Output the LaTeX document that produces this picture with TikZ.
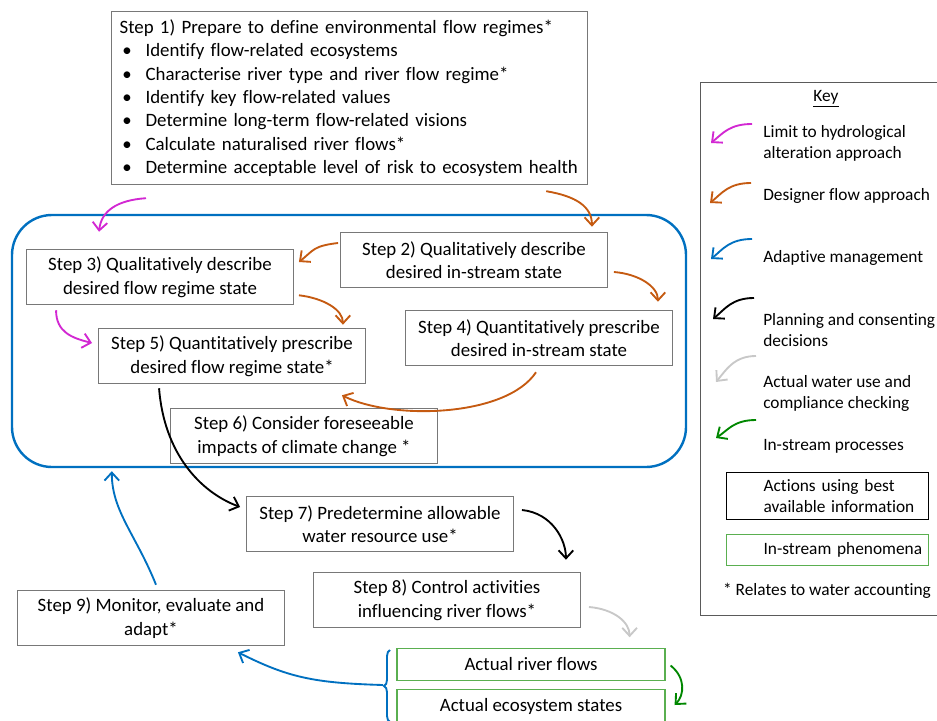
\documentclass[tikz,border=0pt]{standalone}
\usepackage{fontspec}
\setmainfont{Carlito}[Ligatures=NoCommon]
\usetikzlibrary{arrows.meta,calc,decorations.pathreplacing}
\definecolor{mag}{RGB}{210,40,210}
\definecolor{aorange}{RGB}{197,90,17}
\definecolor{ablue}{RGB}{0,112,192}
\definecolor{agray}{RGB}{200,200,200}
\definecolor{agreen}{RGB}{0,135,0}
\definecolor{boxgray}{RGB}{120,120,120}
\definecolor{keygray}{RGB}{90,90,90}
\definecolor{lgreen}{RGB}{90,175,80}
\newcommand{\bigsz}{\fontsize{14.15pt}{17.6pt}\selectfont}
\newcommand{\keysz}{\fontsize{13pt}{15.8pt}\selectfont}
\newcommand{\bul}{\hspace*{2pt}\makebox[17.5pt][l]{\textbullet}}
\begin{document}
\begin{tikzpicture}[x=0.75pt,y=-0.75pt,
  stepbox/.style={draw=boxgray,line width=0.9pt,minimum width=200pt,minimum height=41.5pt,inner sep=0pt,align=center,font=\bigsz},
  greenbox/.style={draw=lgreen,line width=0.9pt,minimum width=201pt,minimum height=23.5pt,inner sep=0pt,align=center,font=\bigsz},
  keytext/.style={anchor=west,align=left,font=\keysz,inner sep=0pt},
  arr/.style={line width=1.4pt,-{Straight Barb[length=6pt,width=11pt]}}]
\useasboundingbox (0,0) rectangle (937,720);

% adaptive zone
\node[draw=ablue,line width=1.8pt,rounded corners=30pt,minimum width=505.5pt,minimum height=189pt,inner sep=0pt] (zone) at (349,341) {};

% step 1
\node[draw=boxgray,line width=0.9pt,anchor=north west,minimum height=129.75pt,inner xsep=6pt,inner ysep=0pt,text width=345pt,align=left,font=\bigsz] (s1) at (111,11) {Step 1) Prepare to define environmental flow regimes*\\
\bul Identify flow-related ecosystems\\
\bul Characterise river type and river flow regime*\\
\bul Identify key flow-related values\\
\bul Determine long-term flow-related visions\\
\bul Calculate naturalised river flows*\\
\bul Determine acceptable level of risk to ecosystem health};

\node[stepbox] (s3) at (160,277) {Step 3) Qualitatively describe\\desired flow regime state};
\node[stepbox] (s2) at (474,260) {Step 2) Qualitatively describe\\desired in-stream state};
\node[stepbox] (s4) at (539,338) {Step 4) Quantitatively prescribe\\desired in-stream state};
\node[stepbox] (s5) at (232,356) {Step 5) Quantitatively prescribe\\desired flow regime state*};
\node[stepbox] (s6) at (304,436) {Step 6) Consider foreseeable\\impacts of climate change *};
\node[stepbox] (s7) at (380,524) {Step 7) Predetermine allowable\\water resource use*};
\node[stepbox] (s8) at (447,600) {Step 8) Control activities\\influencing river flows*};
\node[stepbox] (s9) at (151,618) {Step 9) Monitor, evaluate and\\adapt*};
\node[greenbox] (arf) at (531,664.5) {Actual river flows};
\node[greenbox,minimum height=24.75pt] (aes) at (531,706) {Actual ecosystem states};

% bracket
\draw[ablue,line width=1.4pt,decorate,decoration={brace,amplitude=4.5pt}] (390,722) -- (390,650);
\coordinate (brtip) at (383,685);

% arrows
\draw[arr,mag] ($(s1.south west)+(35,13)$) .. controls +(-30,2) and +(2,-20) .. ($(s3.north west)+(73,-17)$);
\draw[arr,aorange] ($(s1.south east)+(-42,6)$) .. controls +(30,5) and +(0,-20) .. ($(s2.north east)+(-16,-5)$);
\draw[arr,aorange] ($(s2.west)+(-2,-17)$) .. controls +(-25,3) and +(15,-12) .. ($(s3.east)+(5,-15)$);
\draw[arr,aorange] ($(s3.south east)+(5,-10)$) .. controls +(25,3) and +(0,-15) .. ($(s5.north east)+(-23,-3)$);
\draw[arr,mag] ($(s3.south west)+(30,5)$) .. controls +(0,22) and +(-20,-5) .. ($(s5.west)+(-6,-13)$);
\draw[arr,aorange] ($(s2.east)+(6,12)$) .. controls +(25,2) and +(0,-15) .. ($(s4.north east)+(-15,-8)$);
\draw[arr,aorange] ($(s4.south)+(-3,6)$) .. controls +(-30,45) and +(50,25) .. ($(s5.south east)+(-24,11)$);
\draw[arr,black] ($(s5.south west)+(61,4)$) .. controls +(5,65) and +(-40,-15) .. ($(s7.west)+(-6,-17)$);
\draw[arr,black] ($(s7.east)+(8,-14)$) .. controls +(30,3) and +(0,-20) .. ($(s8.north east)+(-15,-12)$);
\draw[arr,agray] ($(s8.east)+(8,7)$) .. controls +(25,2) and +(0,-15) .. ($(arf.north east)+(-36,-11)$);
\draw[arr,agreen] ($(arf.east)+(5,1)$) .. controls +(15,12) and +(10,-10) .. ($(aes.east)+(9,-1)$);
\draw[arr,ablue] (brtip) .. controls +(-70,-2) and +(50,25) .. ($(s9.south east)+(-47,6)$);
\draw[arr,ablue] ($(s9.north)+(5,-5)$) .. controls +(-20,-50) and +(0,40) .. ($(zone.south west)+(101,3)$);

% key
\node[draw=keygray,line width=1pt,anchor=north west,minimum width=178.5pt,minimum height=399.75pt,inner sep=0pt] (keybox) at (700,82) {};
\node[font=\keysz] (keyt) at (826,99) {\underline{Key}};
\node[keytext] (k1) at (763,143.5) {Limit to hydrological\\alteration approach};
\node[keytext] (k2) at (763,196) {Designer flow approach};
\node[keytext] (k3) at (763,258) {Adaptive management};
\node[keytext] (k4) at (763,330.5) {Planning and consenting\\decisions};
\node[keytext] (k5) at (763,393.5) {Actual water use and\\compliance checking};
\node[keytext] (k6) at (763,446) {In-stream processes};
\node[draw=black,line width=0.9pt,anchor=north west,minimum height=35.25pt,text width=151.5pt,inner xsep=0pt,inner ysep=0pt,align=left,font=\keysz] (k7) at (726,472) {\hspace*{27.75pt}Actions using best\\\hspace*{27.75pt}available information};
\node[draw=lgreen,line width=0.9pt,anchor=north west,minimum height=23.25pt,text width=151.5pt,inner xsep=0pt,inner ysep=0pt,align=left,font=\keysz] (k8) at (726,534) {\hspace*{27.75pt}In-stream phenomena};
\node[font=\keysz,inner sep=0pt] (k9) at (827,591) {* Relates to water accounting};

\coordinate (ka1) at (752,124); \coordinate (kb1) at (711,143);
\coordinate (ka2) at (751,183); \coordinate (kb2) at (710,203);
\coordinate (ka3) at (752,239); \coordinate (kb3) at (711,259);
\coordinate (ka4) at (754,298); \coordinate (kb4) at (713,319);
\coordinate (ka5) at (756,356); \coordinate (kb5) at (716,382);
\coordinate (ka6) at (756,420); \coordinate (kb6) at (716,438);
\draw[arr,mag] (ka1) .. controls +(-22,0) and +(12,-10) .. (kb1);
\draw[arr,aorange] (ka2) .. controls +(-22,0) and +(12,-10) .. (kb2);
\draw[arr,ablue] (ka3) .. controls +(-22,0) and +(12,-10) .. (kb3);
\draw[arr,black] (ka4) .. controls +(-22,0) and +(12,-10) .. (kb4);
\draw[arr,agray] (ka5) .. controls +(-22,0) and +(10,-12) .. (kb5);
\draw[arr,agreen] (ka6) .. controls +(-22,0) and +(12,-8) .. (kb6);
\end{tikzpicture}
\end{document}
